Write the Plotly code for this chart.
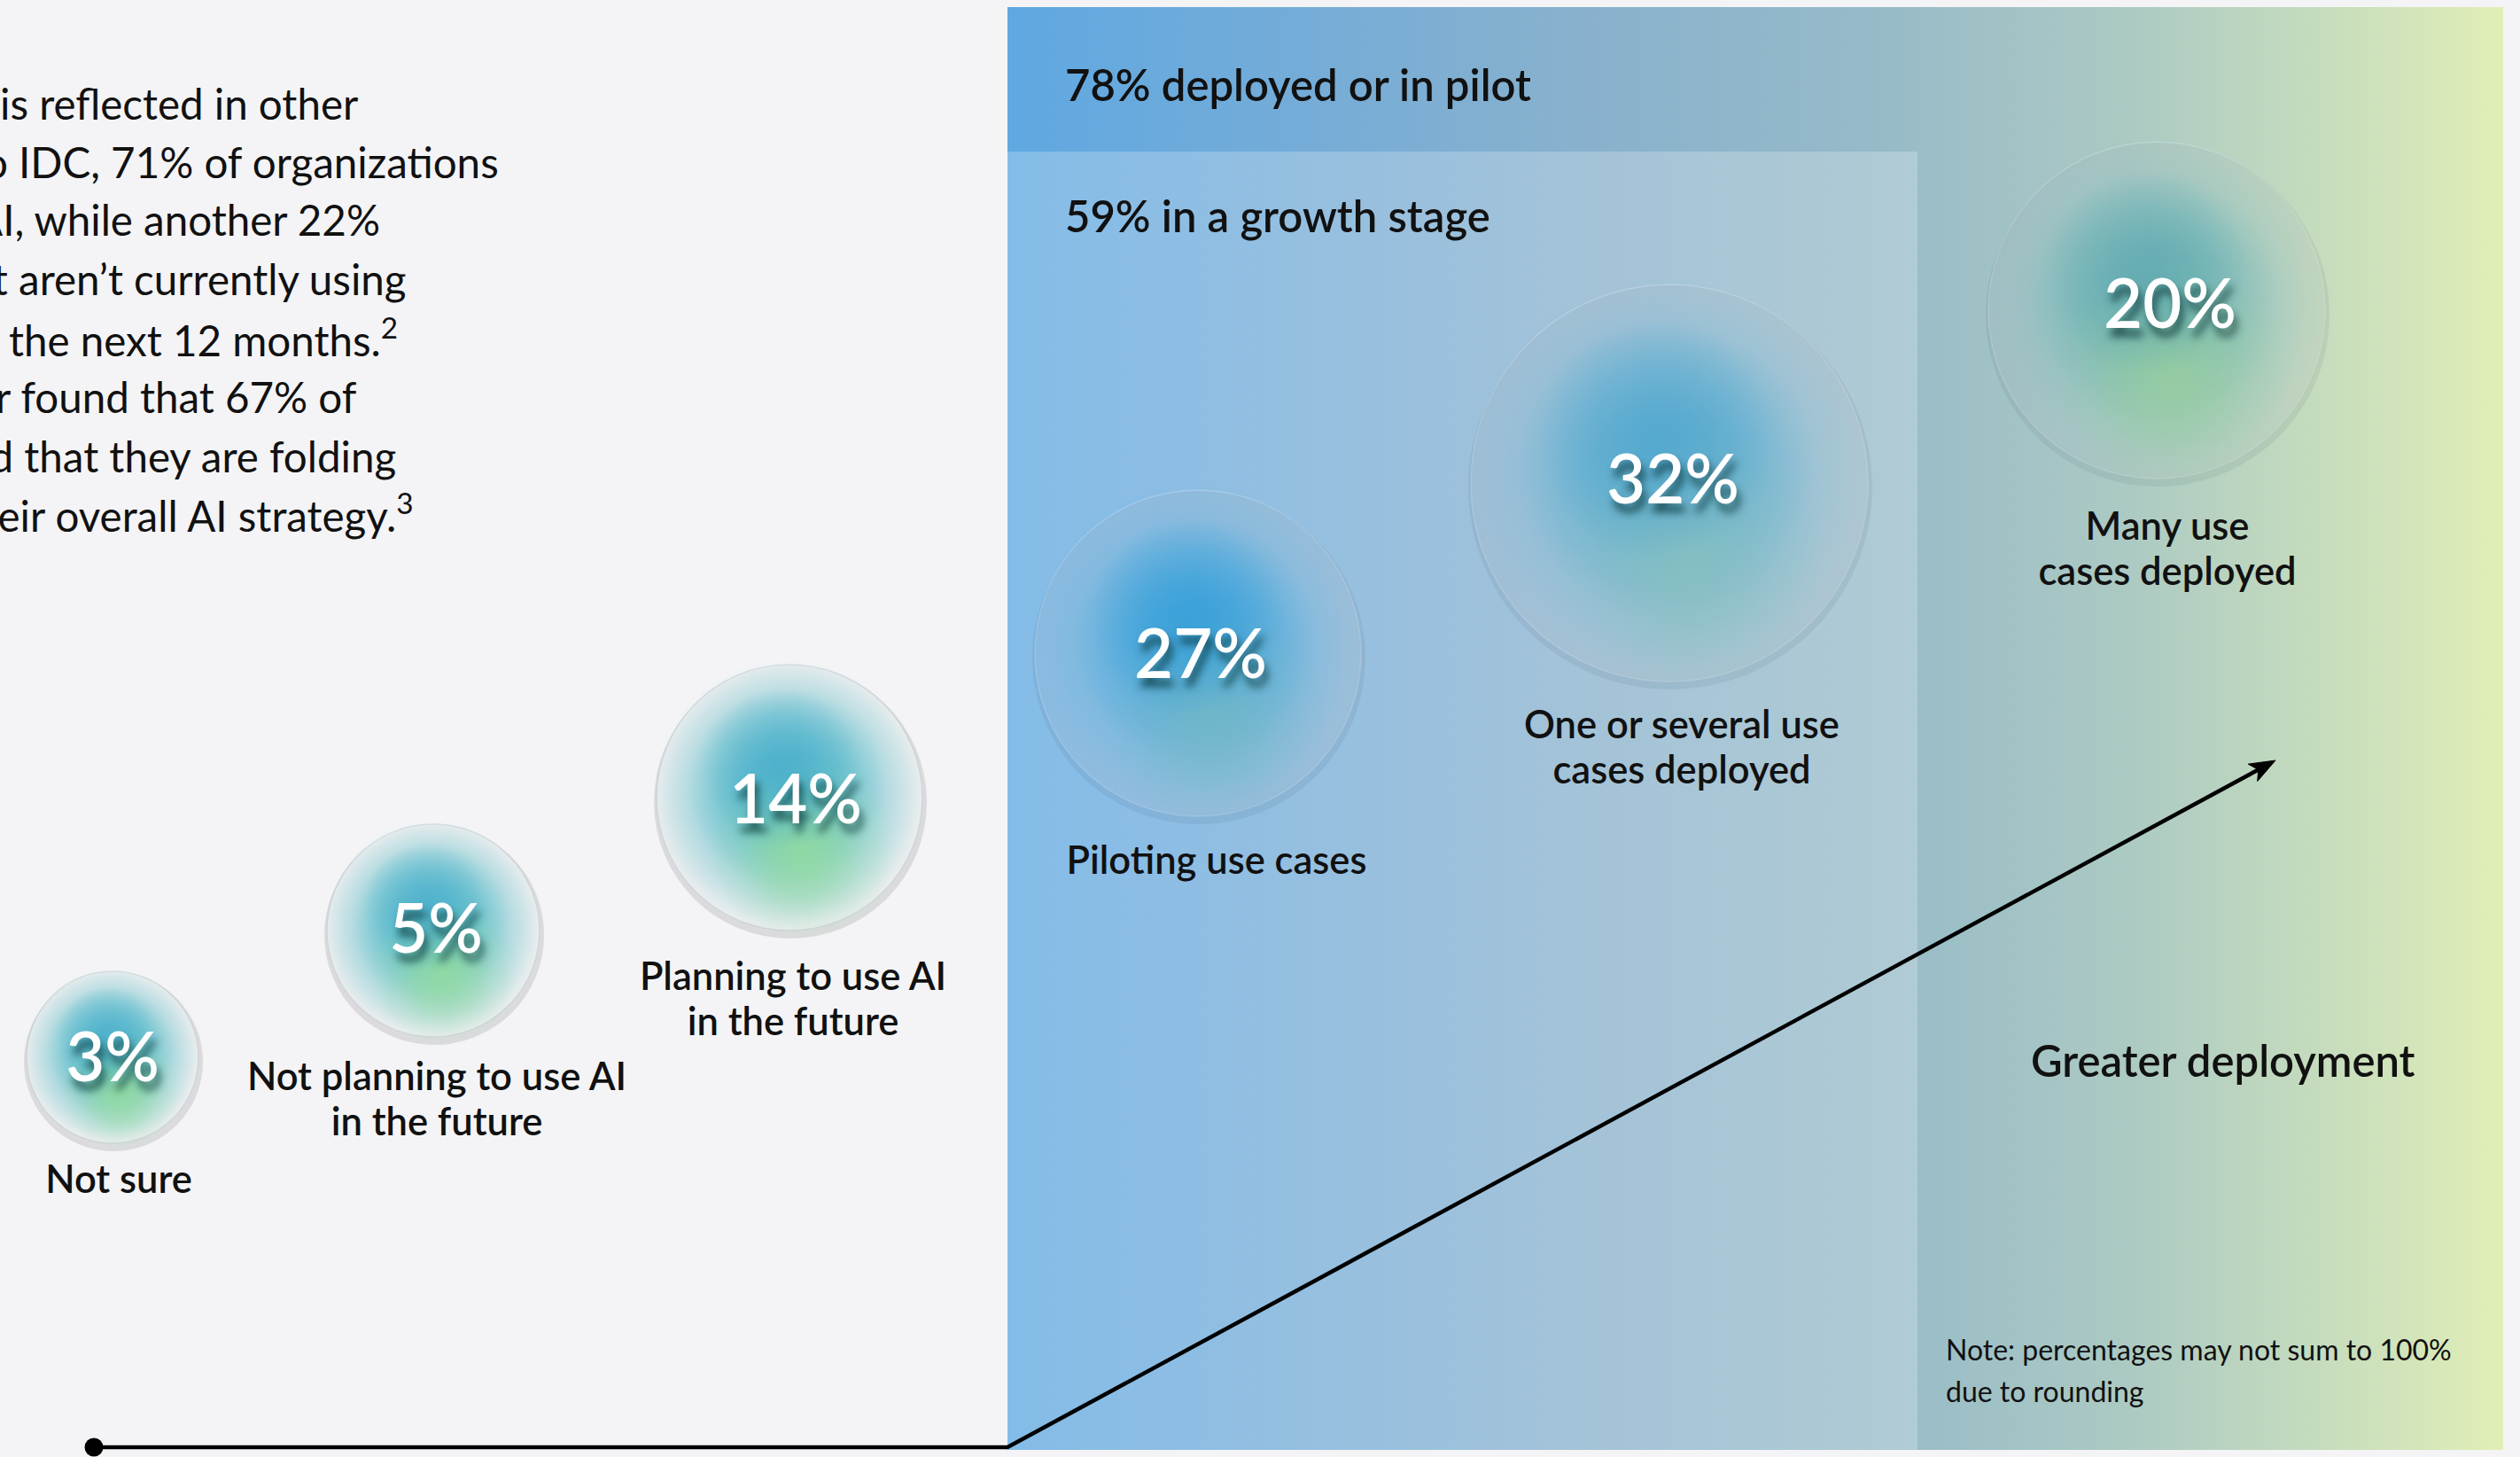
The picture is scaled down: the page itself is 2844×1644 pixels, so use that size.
import math
import plotly.graph_objects as go

# ---------------- data ----------------
stages = [
    "Not sure",
    "Not planning to use AI<br>in the future",
    "Planning to use AI<br>in the future",
    "Piloting use cases",
    "One or several use<br>cases deployed",
    "Many use<br>cases deployed",
]
shares = [3, 5, 14, 27, 32, 20]
band_values = [78, 59]
band_labels = ["deployed or in pilot", "in a growth stage"]
side_label = "Greater deployment"
note_lines = ["Note: percentages may not sum to 100%", "due to rounding"]
body_lines = [
    "is reflected in other",
    "to IDC, 71% of organizations",
    "AI, while another 22%",
    "that aren\u2019t currently using",
    "in the next 12 months.<sup>2</sup>",
    "r found that 67% of",
    "said that they are folding",
    "their overall AI strategy.<sup>3</sup>",
]

# ---------------- layout / style ----------------
W, H = 2844, 1644
BG = "#f4f4f6"
FONT = "Lato, 'Open Sans', sans-serif"

bubble_x = [127, 489, 891, 1352, 1884, 2434]
bubble_y = [1193, 1050, 900, 737, 545, 350]
bubble_d = [194, 240, 300, 368, 448, 380]
pct_x = [127, 492, 898, 1355, 1888, 2449]
pct_y = [1201, 1056, 910, 746, 549, 351]
label_x = [134, 493, 895, 1373, 1898, 2446]
label_y = [1335, 1245, 1132, 975, 848, 624]
label_gap = 51

on_panel = [False, False, False, True, True, True]
base_rgb = [(78, 186, 196), (78, 186, 196), (76, 184, 196), (66, 164, 212), (86, 170, 204), (104, 176, 178)]
main_rgb = [(70, 182, 198), (70, 182, 198), (68, 180, 198), (58, 162, 216), (82, 170, 206), (98, 176, 176)]
top_rgb = [(76, 172, 206), (76, 172, 206), (74, 172, 206), (52, 158, 218), (80, 166, 208), (96, 168, 180)]
green_rgb = [(148, 220, 156), (148, 220, 156), (148, 220, 156), (116, 184, 196), (136, 192, 190), (152, 206, 158)]

panel_x0, panel_x1, panel_y0, panel_y1 = 1137, 2825, 8, 1636
inner_x1, inner_y0 = 2164, 171
panel_scale = [[0.0, "#5fa8e1"], [0.19, "#74acd8"], [0.38, "#88b1cd"], [0.58, "#96bac8"],
               [0.75, "#accac3"], [0.88, "#c6dcbd"], [1.0, "#e1eeb6"]]

body_right = [406, 565, 431, 461, 451, 405, 449, 469]
body_y = [116, 182, 247, 314, 380, 447, 514, 578]

line_start = (106, 1633)
line_corner = (1137, 1633)
arrow_tip = (2568, 858)


def rgba(c, a):
    return f"rgba({c[0]},{c[1]},{c[2]},{a})"


fig = go.Figure()

# gradient panel (78%)
fig.add_trace(go.Scatter(
    x=[panel_x0, panel_x1, panel_x1, panel_x0, panel_x0],
    y=[panel_y0, panel_y0, panel_y1, panel_y1, panel_y0],
    mode="lines", fill="toself", line=dict(width=0),
    fillgradient=dict(type="horizontal", colorscale=panel_scale),
    hoverinfo="skip", showlegend=False))
# lighter overlay (59%)
fig.add_trace(go.Scatter(
    x=[panel_x0, inner_x1, inner_x1, panel_x0, panel_x0],
    y=[inner_y0, inner_y0, panel_y1, panel_y1, inner_y0],
    mode="lines", fill="toself", line=dict(width=0),
    fillcolor="rgba(255,255,255,0.23)", hoverinfo="skip", showlegend=False))

# path line and arrow
ux, uy = arrow_tip[0] - line_corner[0], arrow_tip[1] - line_corner[1]
ln = math.hypot(ux, uy)
ux, uy = ux / ln, uy / ln
nx, ny = -uy, ux
L, hw, notch = 29, 11, 7
bx, by = arrow_tip[0] - L * ux, arrow_tip[1] - L * uy
mx, my = arrow_tip[0] - (L - notch) * ux, arrow_tip[1] - (L - notch) * uy
fig.add_trace(go.Scatter(
    x=[line_start[0], line_corner[0], mx], y=[line_start[1], line_corner[1], my],
    mode="lines", line=dict(color="#000", width=4.5), hoverinfo="skip", showlegend=False))
fig.add_trace(go.Scatter(
    x=[arrow_tip[0], bx + hw * nx, mx, bx - hw * nx, arrow_tip[0]],
    y=[arrow_tip[1], by + hw * ny, my, by - hw * ny, arrow_tip[1]],
    mode="lines", fill="toself", fillcolor="#000", line=dict(color="#000", width=1),
    hoverinfo="skip", showlegend=False))
fig.add_trace(go.Scatter(
    x=[line_start[0]], y=[line_start[1]], mode="markers",
    marker=dict(size=21, color="#000"), hoverinfo="skip", showlegend=False))

n = len(shares)


def blob_layer(dx, dy, scale, rgbs, alphas):
    fig.add_trace(go.Scatter(
        x=[bubble_x[i] + dx * bubble_d[i] for i in range(n)],
        y=[bubble_y[i] + dy * bubble_d[i] for i in range(n)], mode="markers",
        marker=dict(size=[scale * d for d in bubble_d],
                    color=[rgba(rgbs[i], 0) for i in range(n)],
                    gradient=dict(type="radial", color=[rgba(rgbs[i], alphas[i]) for i in range(n)]),
                    line=dict(width=0)),
        hoverinfo="skip", showlegend=False))


# soft shadow (dark at rim, clear at centre)
fig.add_trace(go.Scatter(
    x=[bubble_x[i] + 1 for i in range(n)], y=[bubble_y[i] + 5 for i in range(n)], mode="markers",
    marker=dict(size=[d + 8 for d in bubble_d],
                color=["rgba(30,50,80,0.11)" if on_panel[i] else "rgba(60,60,70,0.20)" for i in range(n)],
                gradient=dict(type="radial",
                              color=["rgba(30,50,80,0)" if on_panel[i] else "rgba(60,60,70,0)" for i in range(n)]),
                line=dict(width=0)),
    hoverinfo="skip", showlegend=False))
# base discs
fig.add_trace(go.Scatter(
    x=bubble_x, y=bubble_y, mode="markers",
    marker=dict(size=bubble_d,
                color=["rgba(255,255,255,0.16)" if on_panel[i] else "#eff5f5" for i in range(n)],
                gradient=dict(type="radial",
                              color=[rgba(base_rgb[i], 0.7) if on_panel[i] else rgba(base_rgb[i], 1) for i in range(n)]),
                line=dict(width=1.5, color=["rgba(225,235,245,0.35)" if on_panel[i] else "rgba(205,210,215,1)" for i in range(n)])),
    hoverinfo="skip", showlegend=False))
# colour blobs
ones = [1.0] * n
blob_layer(-0.01, -0.02, 1.0, main_rgb, ones)
blob_layer(-0.01, -0.04, 0.75, main_rgb, ones)
blob_layer(0.05, 0.19, 0.70, green_rgb, ones)
blob_layer(0.04, 0.22, 0.45, green_rgb, [0.8, 0.8, 0.8, 0.5, 0.5, 0.7])
blob_layer(-0.03, -0.11, 0.60, top_rgb, ones)

# percent labels
fig.add_trace(go.Scatter(
    x=pct_x, y=pct_y, mode="text", text=[f"{v}%" for v in shares],
    textposition="middle center",
    textfont=dict(family=FONT, size=76, color="#ffffff", weight=600,
                  shadow="4px 10px 10px rgba(0,40,40,0.7)"),
    hoverinfo="skip", showlegend=False))

# stage labels, one text per line
lx, ly, lt = [], [], []
for i, s in enumerate(stages):
    parts = s.split("<br>")
    for k, p in enumerate(parts):
        lx.append(label_x[i])
        ly.append(label_y[i] + (k - (len(parts) - 1) / 2) * label_gap)
        lt.append(p)
fig.add_trace(go.Scatter(
    x=lx, y=ly, mode="text", text=lt, textposition="middle center",
    textfont=dict(family=FONT, size=43.5, color="#111111", weight=600),
    hoverinfo="skip", showlegend=False))

annotations = []
for i, (v, lab) in enumerate(zip(band_values, band_labels)):
    annotations.append(dict(x=1200, y=[95, 243][i], xref="x", yref="y", text=f"{v}% {lab}",
                            showarrow=False, xanchor="left", yanchor="middle",
                            font=dict(family=FONT, size=49, color="#111111", weight=600)))
annotations.append(dict(x=2509, y=1196, xref="x", yref="y", text=side_label, showarrow=False,
                        xanchor="center", yanchor="middle",
                        font=dict(family=FONT, size=49, color="#111111", weight=600)))
for j, t in enumerate(note_lines):
    annotations.append(dict(x=2194, y=[1522, 1569][j], xref="x", yref="y", text=t, showarrow=False,
                            xanchor="left", yanchor="middle",
                            font=dict(family=FONT, size=32, color="#111111")))
for t, xr, yy in zip(body_lines, body_right, body_y):
    annotations.append(dict(x=xr, y=yy, xref="x", yref="y", text=t, showarrow=False,
                            xanchor="right", yanchor="middle",
                            font=dict(family=FONT, size=47.5, color="#111111")))

fig.update_layout(
    width=W, height=H, margin=dict(l=0, r=0, t=0, b=0),
    paper_bgcolor=BG, plot_bgcolor="rgba(0,0,0,0)",
    xaxis=dict(range=[0, W], visible=False, fixedrange=True, domain=[0, 1]),
    yaxis=dict(range=[H, 0], visible=False, fixedrange=True, domain=[0, 1]),
    annotations=annotations, showlegend=False, hovermode=False,
)

fig.write_html("out.html", config={"displayModeBar": False},
               post_script="document.body.style.margin='0px';document.body.style.background='#f4f4f6';")
